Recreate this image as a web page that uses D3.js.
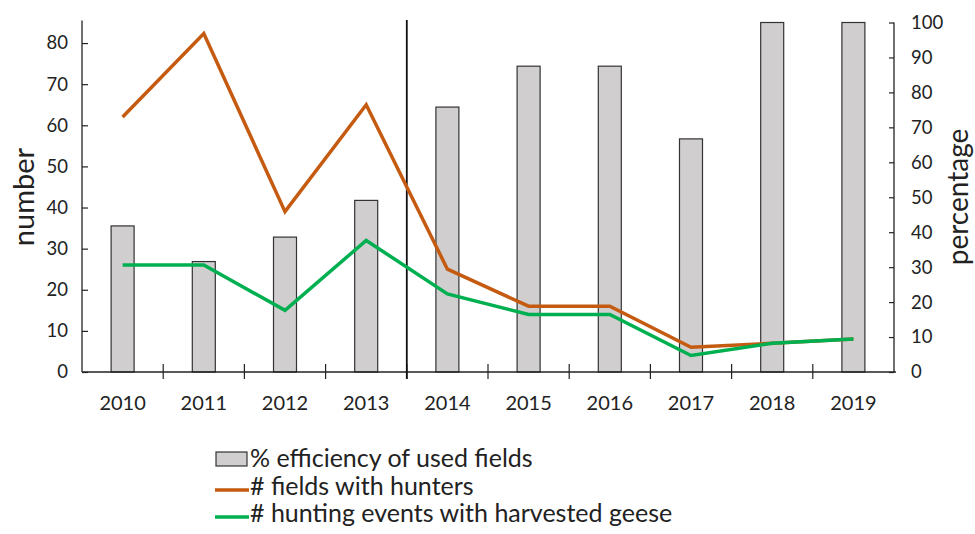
<!DOCTYPE html>
<html><head><meta charset="utf-8">
<script src="https://cdn.jsdelivr.net/npm/d3@7"></script>
<style>body{margin:0;background:#fff}svg{display:block}text{font-family:Lato,"Open Sans",sans-serif;fill:#222}</style>
</head><body><svg id="c" width="975" height="534"></svg>
<script>
const years = ["2010","2011","2012","2013","2014","2015","2016","2017","2018","2019"];
const efficiency = [41.8, 31.6, 38.6, 49.1, 75.8, 87.5, 87.5, 66.7, 100, 100];
const fieldsWithHunters = [62, 82.3, 39, 65, 25, 16, 16, 6, 7, 8];
const huntingEvents = [26, 26, 15, 32, 19, 14, 14, 4, 7, 8];
const leftTicks = [0,10,20,30,40,50,60,70,80];
const rightTicks = [0,10,20,30,40,50,60,70,80,90,100];
const legendLabels = ["% efficiency of used fields", "# fields with hunters", "# hunting events with harvested geese"];

const svg = d3.select("#c");
const L = 82, R = 894, T = 22.5, B = 372;
const x = d3.scaleBand().domain(years).range([L, R]);
const yL = d3.scaleLinear().domain([0, 85]).range([B, T]);
const yR = d3.scaleLinear().domain([0, 100]).range([B, T]);
const orange = "#C55A11", green = "#00B050";

// bars
svg.append("g").selectAll("rect").data(years).join("rect")
  .attr("x", d => x(d) + x.bandwidth()/2 - 11.5)
  .attr("width", 23)
  .attr("y", (d,i) => yR(efficiency[i]))
  .attr("height", (d,i) => B - yR(efficiency[i]))
  .attr("fill", "#D0CECE").attr("stroke", "#333").attr("stroke-width", 1.2);

// left axis
const gl = svg.append("g").attr("transform", `translate(${L},0)`)
  .call(d3.axisLeft(yL).tickValues(leftTicks).tickSizeInner(-6).tickSizeOuter(0).tickPadding(14));
// right axis
const gr = svg.append("g").attr("transform", `translate(${R},0)`)
  .call(d3.axisRight(yR).tickValues(rightTicks).tickSizeInner(-5).tickSizeOuter(0).tickPadding(17));
[gl, gr].forEach(g => {
  g.select(".domain").attr("stroke", "#222").attr("stroke-width", 1.3);
  g.selectAll(".tick line").attr("stroke", "#222").attr("stroke-width", 1.2);
  g.selectAll(".tick text").attr("font-size", 18.5).attr("font-family", "Lato").attr("fill", "#222");
});
gl.select(".domain").attr("d", `M0,${B}V${T-2}`);
gr.select(".domain").attr("d", `M0,${B}V${T}`);

// x axis
const gx = svg.append("g").attr("transform", `translate(0,${B})`);
gx.append("line").attr("x1", L).attr("x2", R+2).attr("stroke", "#222").attr("stroke-width", 1.3);
gx.selectAll(".xt").data(years.slice(1)).join("line").attr("class","xt")
  .attr("x1", d => x(d)).attr("x2", d => x(d)).attr("y1", -8).attr("y2", 7)
  .attr("stroke", "#222").attr("stroke-width", 1.2);
gx.selectAll("text").data(years).join("text")
  .attr("x", d => x(d) + x.bandwidth()/2).attr("y", 38)
  .attr("text-anchor", "middle").attr("font-size", 20).text(d => d);

// vertical separator between 2013 and 2014
svg.append("line").attr("x1", x("2014")).attr("x2", x("2014"))
  .attr("y1", 20).attr("y2", 379).attr("stroke", "#111").attr("stroke-width", 1.8);

// lines
const line = d3.line().x((d,i) => x(years[i]) + x.bandwidth()/2).y(d => yL(d));
svg.append("path").datum(fieldsWithHunters).attr("d", line)
  .attr("fill","none").attr("stroke", orange).attr("stroke-width", 3.5).attr("stroke-linejoin","miter");
svg.append("path").datum(huntingEvents).attr("d", line)
  .attr("fill","none").attr("stroke", green).attr("stroke-width", 3.5).attr("stroke-linejoin","miter");

// axis titles
svg.append("text").attr("transform", "translate(34,197) rotate(-90)")
  .attr("text-anchor","middle").attr("font-size", 29).text("number");
svg.append("text").attr("transform", "translate(968,197) rotate(-90)")
  .attr("text-anchor","middle").attr("font-size", 28).text("percentage");

// legend
const lg = svg.append("g");
lg.append("rect").attr("x", 216).attr("y", 452).attr("width", 31).attr("height", 14)
  .attr("fill", "#D0CECE").attr("stroke", "#333").attr("stroke-width", 1.2);
lg.append("line").attr("x1", 215).attr("x2", 249).attr("y1", 490).attr("y2", 490).attr("stroke", orange).attr("stroke-width", 3.5);
lg.append("line").attr("x1", 215).attr("x2", 249).attr("y1", 517).attr("y2", 517).attr("stroke", green).attr("stroke-width", 3.5);
legendLabels.forEach((t,i) => {
  lg.append("text").attr("x", 250).attr("y", 467 + i*27.5).attr("font-size", 25).text(t);
});
</script></body></html>
